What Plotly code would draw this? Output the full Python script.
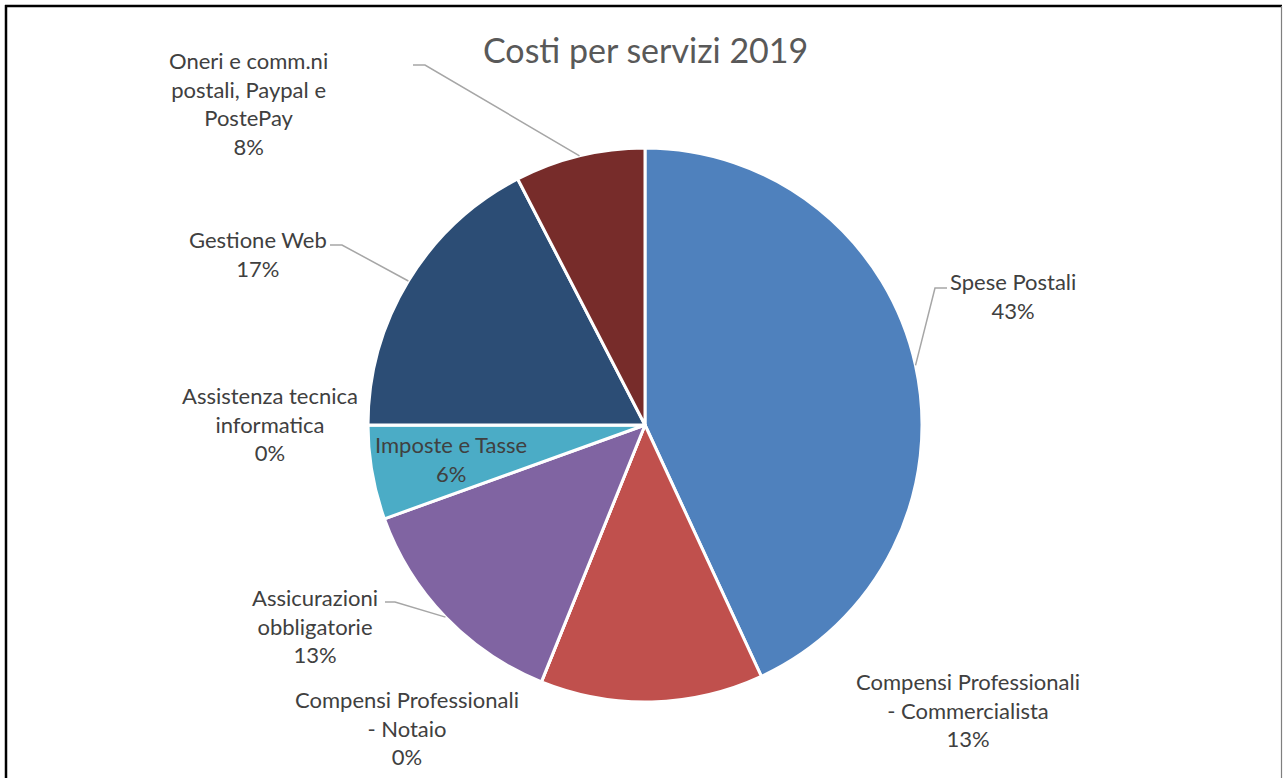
import math
import plotly.graph_objects as go

# ---- data ----
categories = [
    "Spese Postali",
    "Compensi Professionali - Commercialista",
    "Compensi Professionali - Notaio",
    "Assicurazioni obbligatorie",
    "Imposte e Tasse",
    "Assistenza tecnica informatica",
    "Gestione Web",
    "Oneri e comm.ni postali, Paypal e PostePay",
]
values = [43.1, 13.0, 0.0, 13.4, 5.5, 0.0, 17.4, 7.6]
label_lines = [
    ["Spese Postali"],
    ["Compensi Professionali", "- Commercialista"],
    ["Compensi Professionali", "- Notaio"],
    ["Assicurazioni", "obbligatorie"],
    ["Imposte e Tasse"],
    ["Assistenza tecnica", "informatica"],
    ["Gestione Web"],
    ["Oneri e comm.ni", "postali, Paypal e", "PostePay"],
]
colors = ["#4F81BD", "#C0504D", "#9BBB59", "#8064A2", "#4BACC6", "#F79646", "#2C4D75", "#772C2A"]
title_text = "Costi per servizi 2019"

# ---- layout (pixels) ----
W, H = 1283, 778
cx, cy, R = 645, 425, 277
FONT = "Lato"
TXT = "#404040"

# label centre positions (px) and leader elbows (None = no leader)
label_pos = [(1013, 296), (968, 710), (407, 728), (315, 626), None, (270, 424), (258, 254), (248, 104)]
leaders = [
    [(947, 288), (935, 288)],
    None,
    None,
    [(385, 602), (395, 602)],
    None,
    None,
    [(330, 245), (342, 245)],
    [(413, 65), (425, 65)],
]


def px(x):
    return x / W


def py(y):
    return 1 - y / H


total = sum(values)
fig = go.Figure(
    go.Pie(
        labels=categories,
        values=values,
        sort=False,
        direction="clockwise",
        rotation=0,
        marker=dict(colors=colors, line=dict(color="white", width=3)),
        textinfo="none",
        hoverinfo="label+percent",
        showlegend=False,
        domain=dict(x=[px(cx - R), px(cx + R)], y=[py(cy + R), py(cy - R)]),
    )
)

annotations = []
shapes = []
cum = 0.0
for i, v in enumerate(values):
    mid = (cum + v / 2) / total * 2 * math.pi
    cum += v
    pct = f"{round(v / total * 100):.0f}%"
    text = "<br>".join(label_lines[i] + [pct])
    if label_pos[i] is None:
        # inside label
        lx = cx + 0.71 * R * math.sin(mid)
        ly = cy - 0.71 * R * math.cos(mid)
    else:
        lx, ly = label_pos[i]
    annotations.append(
        dict(
            x=px(lx), y=py(ly), xref="paper", yref="paper", text=text, showarrow=False,
            xanchor="center", yanchor="middle", align="center",
            font=dict(family=FONT, size=22, color=TXT),
        )
    )
    if leaders[i] is not None:
        ax = cx + R * math.sin(mid)
        ay = cy - R * math.cos(mid)
        pts = leaders[i] + [(ax, ay)]
        path = "M " + " L ".join(f"{px(x):.5f},{py(y):.5f}" for x, y in pts)
        shapes.append(dict(type="path", xref="paper", yref="paper", path=path,
                           line=dict(color="#A6A6A6", width=1.5)))

# frame
shapes += [
    dict(type="line", xref="paper", yref="paper", x0=px(5), x1=px(1282), y0=py(6), y1=py(6),
         line=dict(color="black", width=2.5)),
    dict(type="line", xref="paper", yref="paper", x0=px(6), x1=px(6), y0=py(5), y1=py(780),
         line=dict(color="black", width=2.5)),
    dict(type="line", xref="paper", yref="paper", x0=px(1281.5), x1=px(1281.5), y0=py(6), y1=py(780),
         line=dict(color="#7F7F7F", width=1.2)),
]

annotations.append(
    dict(x=px(645), y=py(50), xref="paper", yref="paper", text=title_text, showarrow=False,
         xanchor="center", yanchor="middle", font=dict(family=FONT, size=34, color="#595959"))
)

fig.update_layout(
    width=W, height=H,
    margin=dict(l=0, r=0, t=0, b=0),
    paper_bgcolor="white", plot_bgcolor="white",
    annotations=annotations, shapes=shapes,
)

fig.write_html(
    "out.html",
    config={"displayModeBar": False},
    post_script="document.body.style.margin='0';document.body.style.overflow='hidden';",
)
